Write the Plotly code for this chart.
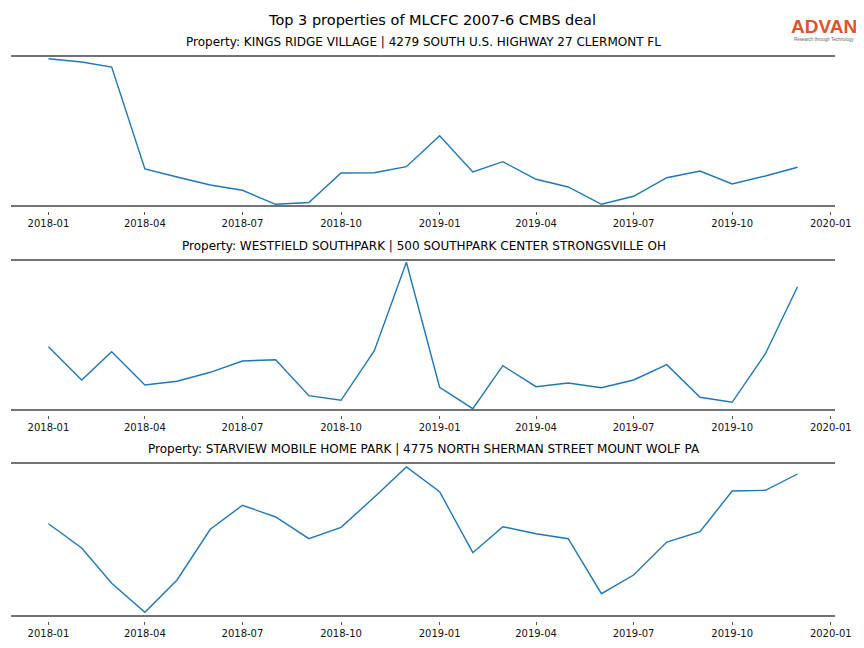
import pandas as pd
import plotly.graph_objects as go

# ---- data (relative activity levels) ----
months = pd.date_range("2018-01-01", "2019-12-01", freq="MS")

titles = [
    "Property: KINGS RIDGE VILLAGE | 4279 SOUTH U.S. HIGHWAY 27 CLERMONT FL",
    "Property: WESTFIELD SOUTHPARK | 500 SOUTHPARK CENTER STRONGSVILLE OH",
    "Property: STARVIEW MOBILE HOME PARK | 4775 NORTH SHERMAN STREET MOUNT WOLF PA",
]

kings_ridge = [147.3, 144.0, 139.0, 37.0, 29.0, 21.0, 15.7, 1.7, 3.5, 33.0, 33.3, 39.3,
               70.3, 34.0, 44.3, 26.7, 19.0, 1.7, 9.7, 28.3, 35.0, 22.0, 30.0, 38.7]
westfield = [63.3, 30.0, 58.3, 25.0, 28.7, 37.7, 49.0, 50.3, 14.3, 9.7, 59.0, 147.7,
             22.7, 1.3, 44.3, 23.3, 27.0, 22.3, 30.0, 45.3, 12.7, 7.7, 56.3, 123.3]
starview = [92.3, 68.0, 32.7, 3.7, 36.0, 86.7, 110.7, 99.0, 77.3, 88.7, 118.7, 149.0,
            124.3, 63.3, 89.3, 82.3, 77.3, 22.3, 41.0, 74.0, 84.3, 125.0, 125.7, 142.0]

series = [kings_ridge, westfield, starview]
y_ranges = [[0, 150], [0, 150], [0, 153]]

# ---- layout geometry ----
# page has an 8px body margin, so the figure is drawn 8px smaller and all
# page-pixel positions below are shifted by OFF.
OFF = 8
W, H = 864 - OFF, 648 - OFF
ML, MR, MT, MB = 11 - OFF, 29, 56 - OFF, 26
ph = H - MT - MB
pw = W - ML - MR
def py(px):  # page pixel from top -> paper fraction
    return (H - MB - (px - OFF)) / ph
def pxx(px):
    return ((px - OFF) - ML) / pw

panels_px = [(56, 206), (260, 410), (463, 616)]
tick_gap = 5

span = months[-1] - months[0]
xr = [months[0] - span * 0.05, months[-1] + span * 0.05]

fig = go.Figure()
spine_color = "#444444"
for i, (vals, (top, bot)) in enumerate(zip(series, panels_px)):
    n = "" if i == 0 else str(i + 1)
    fig.add_trace(go.Scatter(x=months, y=vals, mode="lines",
                             line=dict(color="#1f77b4", width=1.4),
                             xaxis="x" + n, yaxis="y" + n, showlegend=False))
    fig.layout["xaxis" + n] = dict(
        domain=[0, 1], anchor="free", position=max(0.0, py(bot + tick_gap)),
        range=xr, type="date", tick0="2018-01-01", dtick="M3", tickformat="%Y-%m",
        ticks="outside", ticklen=3, tickwidth=1, tickcolor="#555555",
        showline=False, showgrid=False, zeroline=False, automargin=False,
        tickfont=dict(family="DejaVu Sans", size=10, color="#111111"),
    )
    fig.layout["yaxis" + n] = dict(
        domain=[py(bot), py(top)], anchor="x" + n, range=y_ranges[i], automargin=False,
        showticklabels=False, ticks="", showgrid=False, zeroline=False, showline=False,
    )
    for yy in (0, 1):
        fig.add_shape(type="line", xref="x" + n + " domain" if n else "x domain",
                      yref=("y" + n + " domain") if n else "y domain",
                      x0=0, x1=1, y0=yy, y1=yy,
                      line=dict(color=spine_color, width=1.5))
    fig.add_annotation(text=titles[i], xref="paper", yref="paper",
                       x=pxx(423.5), y=py(top - 14), yanchor="middle", showarrow=False,
                       font=dict(family="DejaVu Sans", size=12, color="#000000"))

fig.add_annotation(text="Top 3 properties of MLCFC 2007-6 CMBS deal", xref="paper", yref="paper",
                   x=pxx(432), y=py(20), yanchor="middle", showarrow=False,
                   font=dict(family="DejaVu Sans", size=14.5, color="#000000"))

# logo
fig.add_annotation(text="<b>ADVAN</b>", xref="paper", yref="paper",
                   x=pxx(824), y=py(26.5), xanchor="center", yanchor="middle",
                   showarrow=False, font=dict(family="Liberation Sans", size=19, color="#e0532b"))
fig.add_annotation(text="Research through Technology", xref="paper", yref="paper",
                   x=pxx(824), y=py(39), xanchor="center", yanchor="middle",
                   showarrow=False, font=dict(family="Liberation Sans", size=4.5, color="#666666"))

fig.update_layout(width=W, height=H, margin=dict(l=ML, r=MR, t=MT, b=MB, autoexpand=False),
                  paper_bgcolor="white", plot_bgcolor="white")
fig.write_html("out.html")
